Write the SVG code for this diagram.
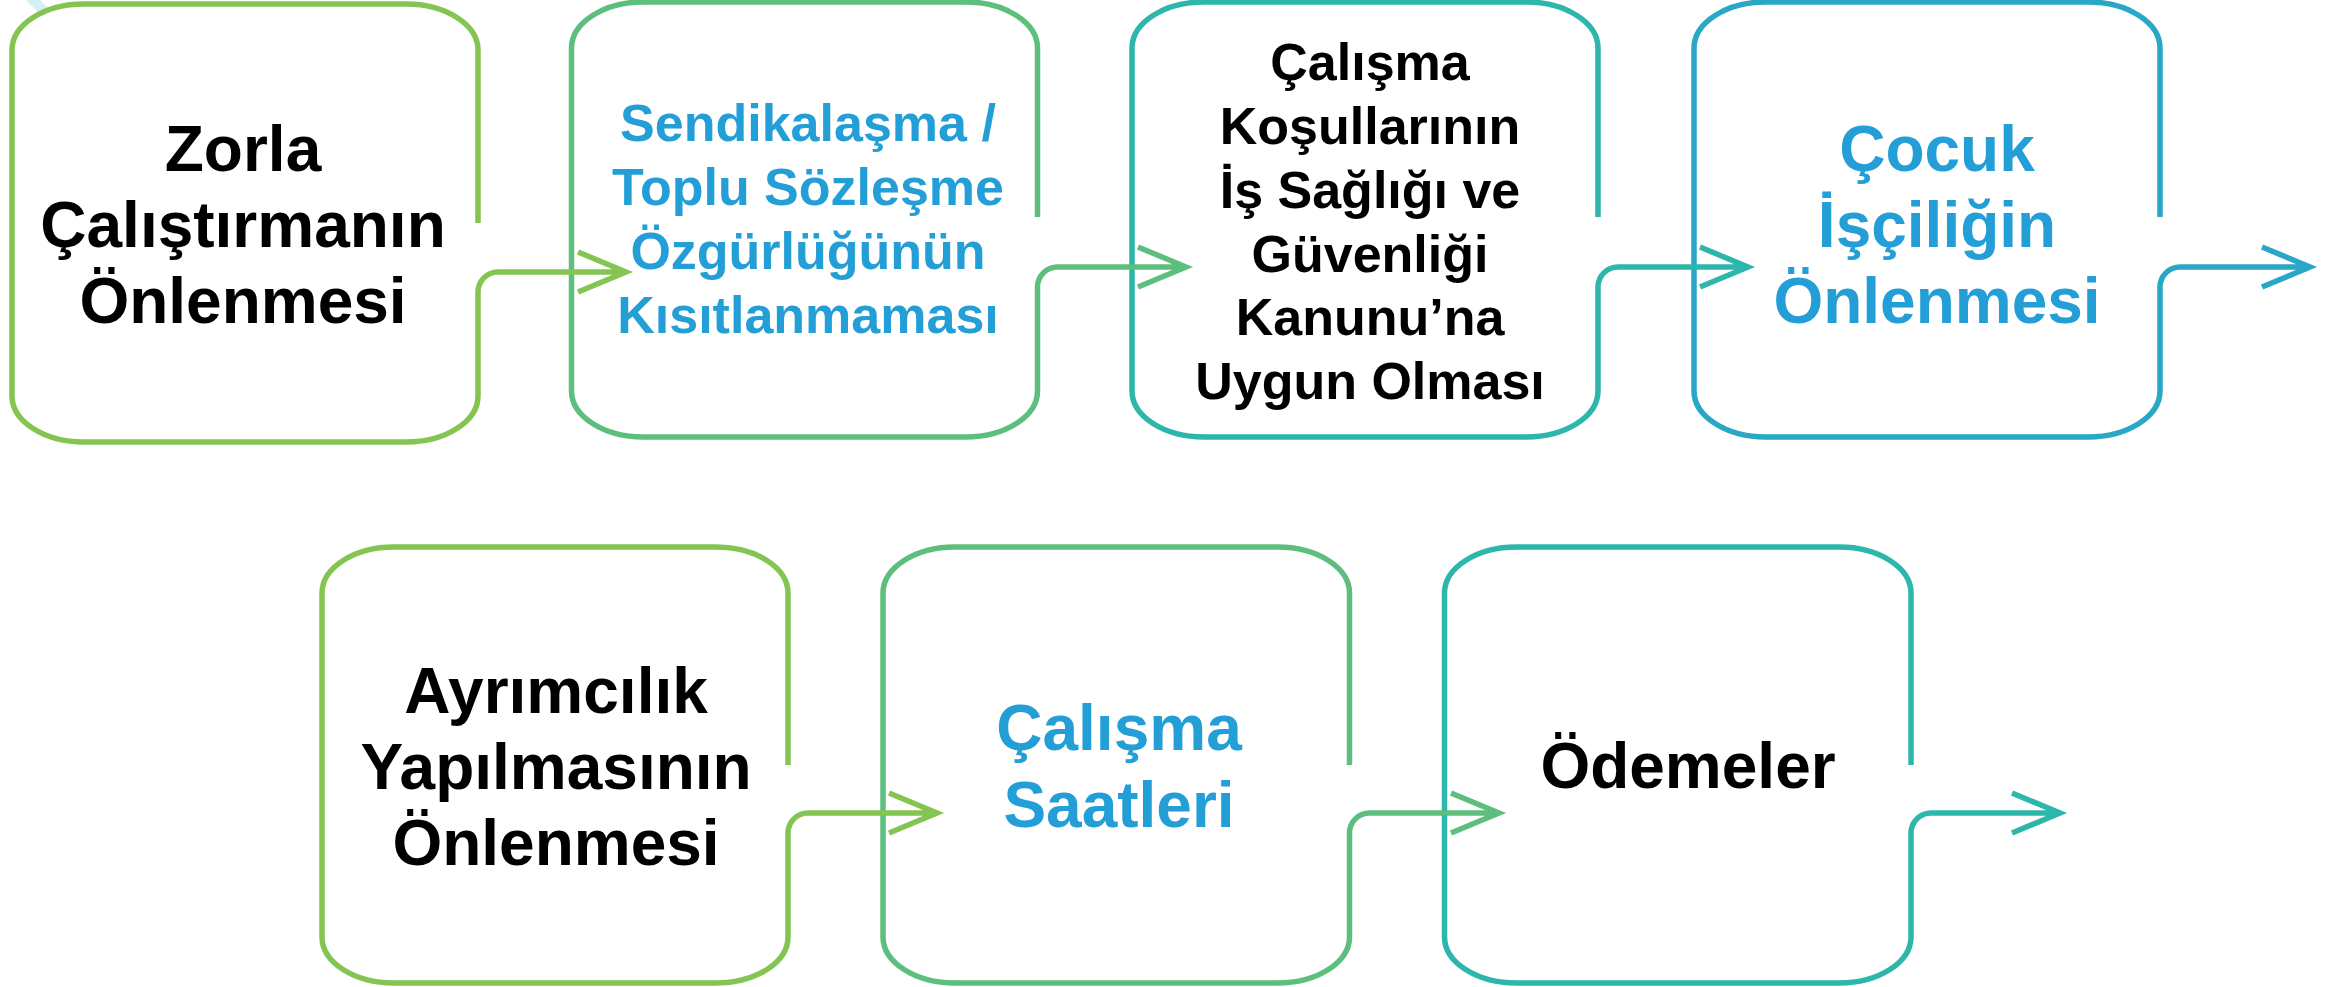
<svg xmlns="http://www.w3.org/2000/svg" width="2341" height="987" viewBox="0 0 2341 987">
<style>
.box{fill:#ffffff;stroke-width:5.5;stroke-linecap:butt}
.c1{stroke:#84C552}.c2{stroke:#5DBE7D}.c3{stroke:#2DB6AC}.c4{stroke:#28A7C6}
.con{fill:none;stroke-width:5.5;stroke-linecap:butt;stroke-linejoin:miter;stroke-miterlimit:10}
text{font-family:"Liberation Sans",Arial,Helvetica,sans-serif;font-weight:bold;text-anchor:middle}
.big{font-size:64px}.mid{font-size:52px}
.k{fill:#000000}.b{fill:#239ED6}
</style>
<rect width="2341" height="987" fill="#ffffff"/>
<line x1="29" y1="-4" x2="45" y2="12" stroke="#D6EEF6" stroke-width="10"/>
<g id="node1">
<path class="box c1" d="M478,223 V50 A72,46 0 0 0 406,4 H84 A72,46 0 0 0 12,50 V396 A72,46 0 0 0 84,442 H406 A72,46 0 0 0 478,396 V292"/>
<text class="big k" x="243"><tspan x="243" y="171">Zorla</tspan><tspan x="243" y="247">Çalıştırmanın</tspan><tspan x="243" y="323">Önlenmesi</tspan></text>
</g>
<g id="node2">
<path class="box c2" d="M1037.5,217 V48 A72,46 0 0 0 965.5,2 H643.5 A72,46 0 0 0 571.5,48 V391 A72,46 0 0 0 643.5,437 H965.5 A72,46 0 0 0 1037.5,391 V287"/>
<text class="mid b" x="808"><tspan x="808" y="141">Sendikalaşma /</tspan><tspan x="808" y="205">Toplu Sözleşme</tspan><tspan x="808" y="269">Özgürlüğünün</tspan><tspan x="808" y="333">Kısıtlanmaması</tspan></text>
</g>
<g id="node3">
<path class="box c3" d="M1598,217 V48 A72,46 0 0 0 1526,2 H1204 A72,46 0 0 0 1132,48 V391 A72,46 0 0 0 1204,437 H1526 A72,46 0 0 0 1598,391 V287"/>
<text class="mid k" x="1370"><tspan x="1370" y="80">Çalışma</tspan><tspan x="1370" y="144">Koşullarının</tspan><tspan x="1370" y="208">İş Sağlığı ve</tspan><tspan x="1370" y="272">Güvenliği</tspan><tspan x="1370" y="335">Kanunu’na</tspan><tspan x="1370" y="399">Uygun Olması</tspan></text>
</g>
<g id="node4">
<path class="box c4" d="M2160,217 V48 A72,46 0 0 0 2088,2 H1766 A72,46 0 0 0 1694,48 V391 A72,46 0 0 0 1766,437 H2088 A72,46 0 0 0 2160,391 V287"/>
<text class="big b" x="1937"><tspan x="1937" y="171">Çocuk</tspan><tspan x="1937" y="247">İşçiliğin</tspan><tspan x="1937" y="323">Önlenmesi</tspan></text>
</g>
<g id="node5">
<path class="box c1" d="M788,765 V593 A72,46 0 0 0 716,547 H394 A72,46 0 0 0 322,593 V937 A72,46 0 0 0 394,983 H716 A72,46 0 0 0 788,937 V833"/>
<text class="big k" x="556"><tspan x="556" y="713">Ayrımcılık</tspan><tspan x="556" y="789">Yapılmasının</tspan><tspan x="556" y="865">Önlenmesi</tspan></text>
</g>
<g id="node6">
<path class="box c2" d="M1349.5,765 V593 A72,46 0 0 0 1277.5,547 H955 A72,46 0 0 0 883,593 V937 A72,46 0 0 0 955,983 H1277.5 A72,46 0 0 0 1349.5,937 V833"/>
<text class="big b" x="1119"><tspan x="1119" y="750">Çalışma</tspan><tspan x="1119" y="827">Saatleri</tspan></text>
</g>
<g id="node7">
<path class="box c3" d="M1911,765 V593 A72,46 0 0 0 1839,547 H1516.5 A72,46 0 0 0 1444.5,593 V937 A72,46 0 0 0 1516.5,983 H1839 A72,46 0 0 0 1911,937 V833"/>
<text class="big k" x="1688" y="788">Ödemeler</text>
</g>
<g id="connectors">
<path class="con c1" d="M478,292 A20,20 0 0 1 498,272 H626 M578,252 L626,272 L578,292"/>
<path class="con c2" d="M1037.5,287 A20,20 0 0 1 1057.5,267 H1186 M1138,247 L1186,267 L1138,287"/>
<path class="con c3" d="M1598,287 A20,20 0 0 1 1618,267 H1748 M1700,247 L1748,267 L1700,287"/>
<path class="con c4" d="M2160,287 A20,20 0 0 1 2180,267 H2310 M2262,247 L2310,267 L2262,287"/>
<path class="con c1" d="M788,833 A20,20 0 0 1 808,813 H937 M889,793 L937,813 L889,833"/>
<path class="con c2" d="M1349.5,833 A20,20 0 0 1 1369.5,813 H1499 M1451,793 L1499,813 L1451,833"/>
<path class="con c3" d="M1911,833 A20,20 0 0 1 1931,813 H2060 M2012,793 L2060,813 L2012,833"/>
</g>
</svg>
